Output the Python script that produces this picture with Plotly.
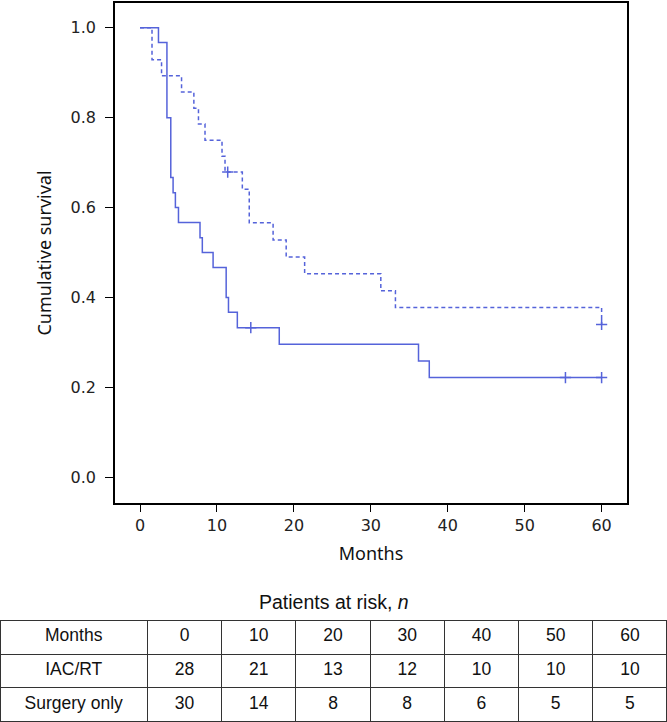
import plotly.graph_objects as go

# ---- Data ----
# IAC/RT (dashed), n = 28: event times (months) and survival after each step
iac_times = [0, 1.56, 2.8, 5.4, 7.0, 7.6, 8.45, 10.66, 11.05, 13.3, 14.2, 17.3, 19.0, 21.4, 31.3, 33.2, 60.0]
iac_surv = [1.0, 0.929, 0.893, 0.857, 0.821, 0.786, 0.750, 0.714, 0.679, 0.641, 0.566, 0.528, 0.490, 0.453, 0.415, 0.378, 0.340]
iac_cens_t = [11.4, 60.0]
iac_cens_s = [0.679, 0.340]

# Surgery only (solid), n = 30
sur_times = [0, 2.4, 3.5, 4.0, 4.3, 4.6, 5.0, 7.8, 8.1, 9.5, 11.2, 11.5, 12.65, 18.1, 36.2, 37.6, 60.0]
sur_surv = [1.0, 0.967, 0.800, 0.667, 0.633, 0.600, 0.567, 0.533, 0.500, 0.467, 0.400, 0.367, 0.333, 0.296, 0.259, 0.222, 0.222]
sur_cens_t = [14.4, 55.3, 60.0]
sur_cens_s = [0.333, 0.222, 0.222]

# Patients-at-risk table
risk_months = ["0", "10", "20", "30", "40", "50", "60"]
risk_iac = ["28", "21", "13", "12", "10", "10", "10"]
risk_sur = ["30", "14", "8", "8", "6", "5", "5"]

y_ticks = [0.0, 0.2, 0.4, 0.6, 0.8, 1.0]
x_ticks = [0, 10, 20, 30, 40, 50, 60]

BLUE = "#5563DA"
W, H = 667, 722
TABLE_FONT = dict(family="Liberation Sans, Arial", size=17.5, color="#111111")

fig = go.Figure()

fig.add_trace(go.Scatter(x=iac_times, y=iac_surv, mode="lines", line_shape="hv",
                         line=dict(color=BLUE, width=1.5, dash="4px,3px"),
                         showlegend=False, hoverinfo="skip"))
fig.add_trace(go.Scatter(x=sur_times, y=sur_surv, mode="lines", line_shape="hv",
                         line=dict(color=BLUE, width=1.5),
                         showlegend=False, hoverinfo="skip"))
fig.add_trace(go.Scatter(x=iac_cens_t + sur_cens_t, y=iac_cens_s + sur_cens_s, mode="markers",
                         marker=dict(symbol="cross-thin", size=8, line=dict(color=BLUE, width=1.5)),
                         showlegend=False, hoverinfo="skip"))

# Table of patients at risk
fig.add_trace(go.Table(
    domain=dict(x=[0, 1], y=[0, 102 / H]),
    columnwidth=[146] + [73.5] * 7,
    header=dict(values=["Months"] + risk_months,
                fill_color="white", line=dict(color="#333333", width=1),
                font=TABLE_FONT, align="center", height=34),
    cells=dict(values=[["IAC/RT", "Surgery only"]] + [[a, b] for a, b in zip(risk_iac, risk_sur)],
               fill_color="white", line=dict(color="#333333", width=1),
               font=TABLE_FONT, align="center", height=33.5),
))

fig.update_layout(
    width=W, height=H,
    margin=dict(l=0, r=0, t=0, b=0),
    paper_bgcolor="white", plot_bgcolor="white",
    xaxis=dict(domain=[115 / W, 627 / W], range=[-3.25, 63.3],
               tickvals=x_ticks, ticks="outside", ticklen=7, tickcolor="black",
               showline=True, mirror=True, linecolor="black", linewidth=1.5,
               showgrid=False, zeroline=False,
               tickfont=dict(family="DejaVu Sans", size=16, color="#222222"),
               title=dict(text="Months", standoff=13,
                          font=dict(family="Noto Sans", size=18, color="#111111"))),
    yaxis=dict(domain=[(H - 503) / H, (H - 3) / H], range=[-0.057, 1.055],
               tickvals=y_ticks, tickformat=".1f", ticks="outside", ticklen=8, tickcolor="black",
               ticklabelstandoff=6,
               showline=True, mirror=True, linecolor="black", linewidth=1.5,
               showgrid=False, zeroline=False,
               tickfont=dict(family="DejaVu Sans", size=16, color="#222222"),
               title=dict(text="Cumulative survival", standoff=14,
                          font=dict(family="Noto Sans", size=18, color="#111111"))),
    annotations=[dict(text="Patients at risk, <i>n</i>", x=0.5, y=(H - 602) / H,
                      xref="paper", yref="paper", showarrow=False, yanchor="middle",
                      font=dict(family="Liberation Sans, Arial", size=19.5, color="#111111"))],
)

fig.write_html("out.html", config={"displayModeBar": False},
               post_script="document.body.style.margin='0px';")
